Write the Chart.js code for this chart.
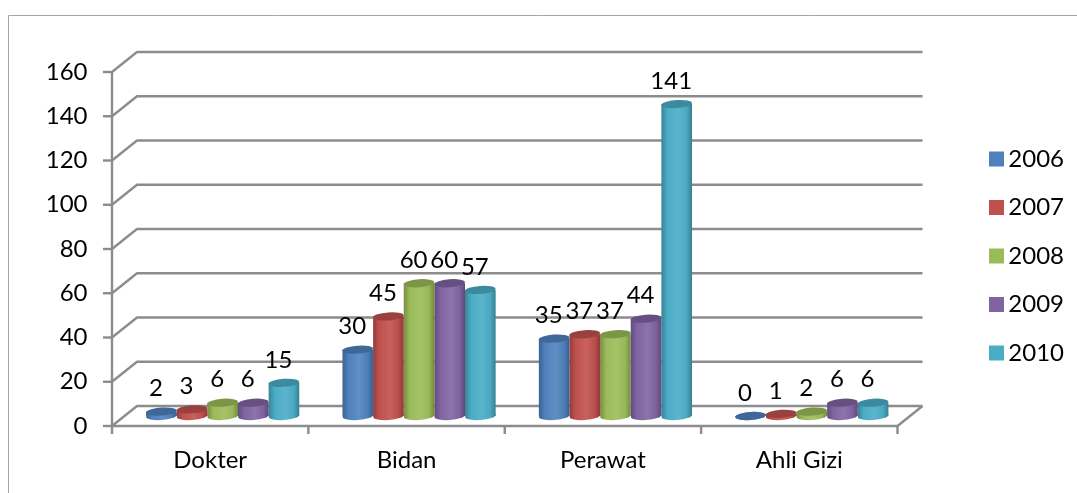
<!DOCTYPE html>
<html>
<head>
<meta charset="utf-8">
<title>Tenaga Kesehatan</title>
<style>
  html, body { margin: 0; padding: 0; background: #fff; }
  canvas { display: block; }
</style>
<script src="https://cdn.jsdelivr.net/npm/chart.js@4"></script>
</head>
<body>
<canvas id="staffChart" width="1077" height="493"></canvas>
<script>
const categories = ["Dokter", "Bidan", "Perawat", "Ahli Gizi"];
const years = ["2006", "2007", "2008", "2009", "2010"];

const values2006 = [2, 30, 35, 0];
const values2007 = [3, 45, 37, 1];
const values2008 = [6, 60, 37, 2];
const values2009 = [6, 60, 44, 6];
const values2010 = [15, 57, 141, 6];
const seriesValues = [values2006, values2007, values2008, values2009, values2010];

const seriesColors = ["#4F81BD", "#C0504D", "#9BBB59", "#8064A2", "#4BACC6"];

const FONT = "Lato, 'Open Sans', sans-serif";
const FONT_SIZE = 24;
const GRID_COLOR = "#8c8c8c";
const FRAME_COLOR = "#a6a6a6";

// half of the floor depth: bars stand in the middle, axes in front, grid behind
const DEPTH_X = 12.5;
const DEPTH_Y = 10;
const CATEGORY_PERCENT = 0.78;
const CAP_RY = 4;
const CAP_TILT = -0.07;

function shade(hex, f) {
  const n = parseInt(hex.slice(1), 16);
  const c = [n >> 16, (n >> 8) & 255, n & 255].map(v =>
    Math.max(0, Math.min(255, Math.round(f > 1 ? v + (255 - v) * (f - 1) : v * f)))
  );
  return `rgb(${c[0]},${c[1]},${c[2]})`;
}

// ========================
// CYLINDER SHADING
// ========================
function cylinderFill(ctx) {
  const base = seriesColors[ctx.datasetIndex];
  if (ctx.type !== "data") return base;

  const chart = ctx.chart;
  const xScale = chart.scales.x;
  if (!xScale) return base;

  const barWidth = (xScale.width / categories.length) * CATEGORY_PERCENT / years.length;
  const center = xScale.getPixelForValue(ctx.dataIndex) +
    (ctx.datasetIndex - (years.length - 1) / 2) * barWidth;

  // scales are not laid out yet on the very first pass
  if (!Number.isFinite(center) || !Number.isFinite(barWidth)) return base;

  const g = chart.ctx.createLinearGradient(center - barWidth / 2, 0, center + barWidth / 2, 0);
  g.addColorStop(0, shade(base, 0.76));
  g.addColorStop(0.2, shade(base, 1));
  g.addColorStop(0.55, shade(base, 1.1));
  g.addColorStop(0.82, shade(base, 0.98));
  g.addColorStop(1, shade(base, 0.74));
  return g;
}

// ========================
// WALLS, FLOOR, AXIS LINES
// ========================
const wallsPlugin = {
  id: "walls",
  beforeDatasetsDraw(chart) {
    const { ctx, scales: { x, y }, chartArea: area } = chart;
    const frontL = area.left - DEPTH_X;
    const frontR = area.right - DEPTH_X;
    const backL = area.left + DEPTH_X;
    const backR = area.right + DEPTH_X;
    const line = (x1, y1, x2, y2) => {
      ctx.beginPath();
      ctx.moveTo(x1, y1);
      ctx.lineTo(x2, y2);
      ctx.stroke();
    };

    ctx.save();

    // outer frame, open on the right and at the bottom
    ctx.strokeStyle = FRAME_COLOR;
    ctx.lineWidth = 1;
    line(8.5, 493, 8.5, 15.5);
    line(8.5, 15.5, 1077, 15.5);

    ctx.strokeStyle = GRID_COLOR;
    ctx.lineWidth = 2.4;
    ctx.lineJoin = "round";

    y.ticks.forEach(tick => {
      const py = y.getPixelForValue(tick.value);
      ctx.beginPath();
      ctx.moveTo(frontL, py + DEPTH_Y);
      ctx.lineTo(backL, py - DEPTH_Y);
      ctx.lineTo(backR, py - DEPTH_Y);
      ctx.stroke();
      line(frontL - 9, py + DEPTH_Y, frontL, py + DEPTH_Y); // tick mark
    });

    // front vertical axis and floor edges
    line(frontL, y.getPixelForValue(160) + DEPTH_Y, frontL, area.bottom + DEPTH_Y);
    line(frontL, area.bottom + DEPTH_Y, frontR, area.bottom + DEPTH_Y);
    line(frontR, area.bottom + DEPTH_Y, backR, area.bottom - DEPTH_Y);

    // category separators along the front edge
    const step = (frontR - frontL) / categories.length;
    for (let i = 0; i <= categories.length; i++) {
      const px = frontL + i * step;
      line(px, area.bottom + DEPTH_Y, px, area.bottom + DEPTH_Y + 8);
    }

    ctx.restore();
  }
};

// ========================
// CYLINDER CAPS + VALUE LABELS
// ========================
const capsPlugin = {
  id: "caps",
  afterDatasetDraw(chart, args) {
    const { ctx } = chart;
    const meta = args.meta;
    const base = seriesColors[args.index];

    ctx.save();
    meta.data.forEach(bar => {
      const rx = bar.width / 2;

      ctx.fillStyle = bar.options.backgroundColor;
      ctx.beginPath();
      ctx.ellipse(bar.x, bar.base, rx, CAP_RY, CAP_TILT, 0, Math.PI * 2);
      ctx.fill();

      ctx.fillStyle = shade(base, 0.8);
      ctx.beginPath();
      ctx.ellipse(bar.x, bar.y, rx, CAP_RY, CAP_TILT, 0, Math.PI * 2);
      ctx.fill();
    });
    ctx.restore();
  },
  afterDatasetsDraw(chart) {
    const { ctx } = chart;
    ctx.save();
    ctx.font = `${FONT_SIZE}px ${FONT}`;
    ctx.fillStyle = "#000";
    ctx.textAlign = "center";
    ctx.textBaseline = "middle";
    chart.data.datasets.forEach((ds, i) => {
      chart.getDatasetMeta(i).data.forEach((bar, j) => {
        ctx.fillText(String(ds.data[j]), bar.x - 5.5, bar.y - 23);
      });
    });
    ctx.restore();
  }
};

// ========================
// LEGEND PLACEMENT
// ========================
const legendPlacePlugin = {
  id: "legendPlace",
  afterLayout(chart) {
    const legend = chart.legend;
    const pad = legend.options.labels.padding;
    legend.left = 989 - pad;
    legend.right = 1064;
    legend.top = 122.5;
    legend.bottom = 400;
  }
};

// bars carry gradients, the legend swatches stay flat
function flatLegendLabels(chart) {
  const items = Chart.defaults.plugins.legend.labels.generateLabels(chart);
  items.forEach((item, i) => { item.fillStyle = seriesColors[i]; });
  return items;
}

// ========================
// CHART
// ========================
new Chart(document.getElementById("staffChart"), {
  type: "bar",
  data: {
    labels: categories,
    datasets: years.map((year, i) => ({
      label: year,
      data: seriesValues[i],
      backgroundColor: cylinderFill,
      borderWidth: 0,
      categoryPercentage: CATEGORY_PERCENT,
      barPercentage: 1
    }))
  },
  options: {
    responsive: false,
    animation: false,
    layout: {
      padding: { top: 62, right: 167, bottom: 0, left: 0 }
    },
    font: { family: FONT, size: FONT_SIZE },
    plugins: {
      tooltip: { enabled: false },
      legend: {
        position: "chartArea",
        align: "start",
        labels: {
          boxWidth: 15,
          boxHeight: 15,
          padding: 24.5,
          color: "#000",
          textAlign: "right",
          generateLabels: flatLegendLabels,
          font: { family: FONT, size: FONT_SIZE }
        }
      }
    },
    scales: {
      x: {
        grid: { display: false, drawTicks: false },
        border: { display: false },
        afterFit: scale => { scale.height = 77; },
        ticks: {
          color: "#000",
          padding: 30,
          labelOffset: -DEPTH_X,
          maxRotation: 0,
          autoSkip: false,
          font: { family: FONT, size: FONT_SIZE }
        }
      },
      y: {
        min: 0,
        max: 160,
        grid: { display: false, drawTicks: false },
        border: { display: false },
        afterFit: scale => { scale.width = 124.5; },
        ticks: {
          stepSize: 20,
          color: "#000",
          padding: 37,
          labelOffset: DEPTH_Y,
          font: { family: FONT, size: FONT_SIZE }
        }
      }
    }
  },
  plugins: [wallsPlugin, capsPlugin, legendPlacePlugin]
});
</script>
</body>
</html>
